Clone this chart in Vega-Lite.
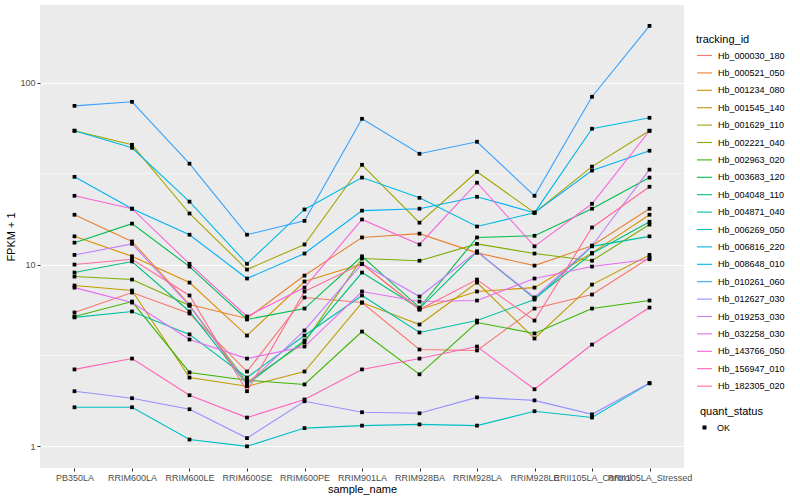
{
"$schema": "https://vega.github.io/schema/vega-lite/v6.json",
"width": 644, "height": 463,
"autosize": "none",
"padding": {"left": 40, "top": 5, "right": 116, "bottom": 32},
"background": "white",
"config": {
  "view": {"fill": "#EBEBEB", "stroke": null},
  "font": "Liberation Sans",
  "axis": {"domain": false, "gridColor": "white", "gridWidth": 1.1, "tickColor": "#333333", "tickSize": 3, "labelColor": "#4D4D4D", "labelFontSize": 9, "labelPadding": 2, "titleFontSize": 11, "titleFontWeight": "normal", "titleColor": "black"},
  "legend": {"titleFontSize": 11, "titleFontWeight": "normal", "titleColor": "black", "labelFontSize": 9, "labelColor": "black", "padding": 0}
},
"datasets": {
  "minor": [{"g": 3.1623}, {"g": 31.623}],
  "expr": [
{"tracking_id":"Hb_000030_180","sample_name":"PB350LA","fpkm":5.45,"quant_status":"OK"},
{"tracking_id":"Hb_000030_180","sample_name":"RRIM600LA","fpkm":7.02,"quant_status":"OK"},
{"tracking_id":"Hb_000030_180","sample_name":"RRIM600LE","fpkm":5.38,"quant_status":"OK"},
{"tracking_id":"Hb_000030_180","sample_name":"RRIM600SE","fpkm":2.58,"quant_status":"OK"},
{"tracking_id":"Hb_000030_180","sample_name":"RRIM600PE","fpkm":6.59,"quant_status":"OK"},
{"tracking_id":"Hb_000030_180","sample_name":"RRIM901LA","fpkm":6.18,"quant_status":"OK"},
{"tracking_id":"Hb_000030_180","sample_name":"RRIM928BA","fpkm":3.41,"quant_status":"OK"},
{"tracking_id":"Hb_000030_180","sample_name":"RRIM928LA","fpkm":3.37,"quant_status":"OK"},
{"tracking_id":"Hb_000030_180","sample_name":"RRIM928LE","fpkm":5.73,"quant_status":"OK"},
{"tracking_id":"Hb_000030_180","sample_name":"RRII105LA_Control","fpkm":6.84,"quant_status":"OK"},
{"tracking_id":"Hb_000030_180","sample_name":"RRII105LA_Stressed","fpkm":10.9,"quant_status":"OK"},
{"tracking_id":"Hb_000521_050","sample_name":"PB350LA","fpkm":18.8,"quant_status":"OK"},
{"tracking_id":"Hb_000521_050","sample_name":"RRIM600LA","fpkm":13.4,"quant_status":"OK"},
{"tracking_id":"Hb_000521_050","sample_name":"RRIM600LE","fpkm":6.03,"quant_status":"OK"},
{"tracking_id":"Hb_000521_050","sample_name":"RRIM600SE","fpkm":5.05,"quant_status":"OK"},
{"tracking_id":"Hb_000521_050","sample_name":"RRIM600PE","fpkm":8.70,"quant_status":"OK"},
{"tracking_id":"Hb_000521_050","sample_name":"RRIM901LA","fpkm":14.1,"quant_status":"OK"},
{"tracking_id":"Hb_000521_050","sample_name":"RRIM928BA","fpkm":14.8,"quant_status":"OK"},
{"tracking_id":"Hb_000521_050","sample_name":"RRIM928LA","fpkm":11.6,"quant_status":"OK"},
{"tracking_id":"Hb_000521_050","sample_name":"RRIM928LE","fpkm":9.87,"quant_status":"OK"},
{"tracking_id":"Hb_000521_050","sample_name":"RRII105LA_Control","fpkm":12.7,"quant_status":"OK"},
{"tracking_id":"Hb_000521_050","sample_name":"RRII105LA_Stressed","fpkm":20.3,"quant_status":"OK"},
{"tracking_id":"Hb_001234_080","sample_name":"PB350LA","fpkm":14.3,"quant_status":"OK"},
{"tracking_id":"Hb_001234_080","sample_name":"RRIM600LA","fpkm":11.1,"quant_status":"OK"},
{"tracking_id":"Hb_001234_080","sample_name":"RRIM600LE","fpkm":7.96,"quant_status":"OK"},
{"tracking_id":"Hb_001234_080","sample_name":"RRIM600SE","fpkm":4.07,"quant_status":"OK"},
{"tracking_id":"Hb_001234_080","sample_name":"RRIM600PE","fpkm":8.07,"quant_status":"OK"},
{"tracking_id":"Hb_001234_080","sample_name":"RRIM901LA","fpkm":10.1,"quant_status":"OK"},
{"tracking_id":"Hb_001234_080","sample_name":"RRIM928BA","fpkm":5.66,"quant_status":"OK"},
{"tracking_id":"Hb_001234_080","sample_name":"RRIM928LA","fpkm":7.11,"quant_status":"OK"},
{"tracking_id":"Hb_001234_080","sample_name":"RRIM928LE","fpkm":7.47,"quant_status":"OK"},
{"tracking_id":"Hb_001234_080","sample_name":"RRII105LA_Control","fpkm":11.6,"quant_status":"OK"},
{"tracking_id":"Hb_001234_080","sample_name":"RRII105LA_Stressed","fpkm":18.8,"quant_status":"OK"},
{"tracking_id":"Hb_001545_140","sample_name":"PB350LA","fpkm":7.67,"quant_status":"OK"},
{"tracking_id":"Hb_001545_140","sample_name":"RRIM600LA","fpkm":7.20,"quant_status":"OK"},
{"tracking_id":"Hb_001545_140","sample_name":"RRIM600LE","fpkm":2.39,"quant_status":"OK"},
{"tracking_id":"Hb_001545_140","sample_name":"RRIM600SE","fpkm":2.14,"quant_status":"OK"},
{"tracking_id":"Hb_001545_140","sample_name":"RRIM600PE","fpkm":2.58,"quant_status":"OK"},
{"tracking_id":"Hb_001545_140","sample_name":"RRIM901LA","fpkm":6.18,"quant_status":"OK"},
{"tracking_id":"Hb_001545_140","sample_name":"RRIM928BA","fpkm":4.68,"quant_status":"OK"},
{"tracking_id":"Hb_001545_140","sample_name":"RRIM928LA","fpkm":7.96,"quant_status":"OK"},
{"tracking_id":"Hb_001545_140","sample_name":"RRIM928LE","fpkm":3.92,"quant_status":"OK"},
{"tracking_id":"Hb_001545_140","sample_name":"RRII105LA_Control","fpkm":7.76,"quant_status":"OK"},
{"tracking_id":"Hb_001545_140","sample_name":"RRII105LA_Stressed","fpkm":11.3,"quant_status":"OK"},
{"tracking_id":"Hb_001629_110","sample_name":"PB350LA","fpkm":54.5,"quant_status":"OK"},
{"tracking_id":"Hb_001629_110","sample_name":"RRIM600LA","fpkm":45.6,"quant_status":"OK"},
{"tracking_id":"Hb_001629_110","sample_name":"RRIM600LE","fpkm":19.1,"quant_status":"OK"},
{"tracking_id":"Hb_001629_110","sample_name":"RRIM600SE","fpkm":9.39,"quant_status":"OK"},
{"tracking_id":"Hb_001629_110","sample_name":"RRIM600PE","fpkm":12.9,"quant_status":"OK"},
{"tracking_id":"Hb_001629_110","sample_name":"RRIM901LA","fpkm":35.4,"quant_status":"OK"},
{"tracking_id":"Hb_001629_110","sample_name":"RRIM928BA","fpkm":17.0,"quant_status":"OK"},
{"tracking_id":"Hb_001629_110","sample_name":"RRIM928LA","fpkm":32.4,"quant_status":"OK"},
{"tracking_id":"Hb_001629_110","sample_name":"RRIM928LE","fpkm":19.3,"quant_status":"OK"},
{"tracking_id":"Hb_001629_110","sample_name":"RRII105LA_Control","fpkm":34.6,"quant_status":"OK"},
{"tracking_id":"Hb_001629_110","sample_name":"RRII105LA_Stressed","fpkm":54.5,"quant_status":"OK"},
{"tracking_id":"Hb_002221_040","sample_name":"PB350LA","fpkm":8.59,"quant_status":"OK"},
{"tracking_id":"Hb_002221_040","sample_name":"RRIM600LA","fpkm":8.27,"quant_status":"OK"},
{"tracking_id":"Hb_002221_040","sample_name":"RRIM600LE","fpkm":5.95,"quant_status":"OK"},
{"tracking_id":"Hb_002221_040","sample_name":"RRIM600SE","fpkm":2.25,"quant_status":"OK"},
{"tracking_id":"Hb_002221_040","sample_name":"RRIM600PE","fpkm":3.73,"quant_status":"OK"},
{"tracking_id":"Hb_002221_040","sample_name":"RRIM901LA","fpkm":10.8,"quant_status":"OK"},
{"tracking_id":"Hb_002221_040","sample_name":"RRIM928BA","fpkm":10.5,"quant_status":"OK"},
{"tracking_id":"Hb_002221_040","sample_name":"RRIM928LA","fpkm":13.0,"quant_status":"OK"},
{"tracking_id":"Hb_002221_040","sample_name":"RRIM928LE","fpkm":11.5,"quant_status":"OK"},
{"tracking_id":"Hb_002221_040","sample_name":"RRII105LA_Control","fpkm":10.5,"quant_status":"OK"},
{"tracking_id":"Hb_002221_040","sample_name":"RRII105LA_Stressed","fpkm":16.6,"quant_status":"OK"},
{"tracking_id":"Hb_002963_020","sample_name":"PB350LA","fpkm":5.18,"quant_status":"OK"},
{"tracking_id":"Hb_002963_020","sample_name":"RRIM600LA","fpkm":6.26,"quant_status":"OK"},
{"tracking_id":"Hb_002963_020","sample_name":"RRIM600LE","fpkm":2.55,"quant_status":"OK"},
{"tracking_id":"Hb_002963_020","sample_name":"RRIM600SE","fpkm":2.31,"quant_status":"OK"},
{"tracking_id":"Hb_002963_020","sample_name":"RRIM600PE","fpkm":2.19,"quant_status":"OK"},
{"tracking_id":"Hb_002963_020","sample_name":"RRIM901LA","fpkm":4.28,"quant_status":"OK"},
{"tracking_id":"Hb_002963_020","sample_name":"RRIM928BA","fpkm":2.49,"quant_status":"OK"},
{"tracking_id":"Hb_002963_020","sample_name":"RRIM928LA","fpkm":4.80,"quant_status":"OK"},
{"tracking_id":"Hb_002963_020","sample_name":"RRIM928LE","fpkm":4.18,"quant_status":"OK"},
{"tracking_id":"Hb_002963_020","sample_name":"RRII105LA_Control","fpkm":5.73,"quant_status":"OK"},
{"tracking_id":"Hb_002963_020","sample_name":"RRII105LA_Stressed","fpkm":6.34,"quant_status":"OK"},
{"tracking_id":"Hb_003683_120","sample_name":"PB350LA","fpkm":13.2,"quant_status":"OK"},
{"tracking_id":"Hb_003683_120","sample_name":"RRIM600LA","fpkm":16.8,"quant_status":"OK"},
{"tracking_id":"Hb_003683_120","sample_name":"RRIM600LE","fpkm":9.75,"quant_status":"OK"},
{"tracking_id":"Hb_003683_120","sample_name":"RRIM600SE","fpkm":4.99,"quant_status":"OK"},
{"tracking_id":"Hb_003683_120","sample_name":"RRIM600PE","fpkm":5.73,"quant_status":"OK"},
{"tracking_id":"Hb_003683_120","sample_name":"RRIM901LA","fpkm":11.1,"quant_status":"OK"},
{"tracking_id":"Hb_003683_120","sample_name":"RRIM928BA","fpkm":5.80,"quant_status":"OK"},
{"tracking_id":"Hb_003683_120","sample_name":"RRIM928LA","fpkm":14.1,"quant_status":"OK"},
{"tracking_id":"Hb_003683_120","sample_name":"RRIM928LE","fpkm":14.4,"quant_status":"OK"},
{"tracking_id":"Hb_003683_120","sample_name":"RRII105LA_Control","fpkm":20.3,"quant_status":"OK"},
{"tracking_id":"Hb_003683_120","sample_name":"RRII105LA_Stressed","fpkm":30.1,"quant_status":"OK"},
{"tracking_id":"Hb_004048_110","sample_name":"PB350LA","fpkm":9.04,"quant_status":"OK"},
{"tracking_id":"Hb_004048_110","sample_name":"RRIM600LA","fpkm":10.4,"quant_status":"OK"},
{"tracking_id":"Hb_004048_110","sample_name":"RRIM600LE","fpkm":5.52,"quant_status":"OK"},
{"tracking_id":"Hb_004048_110","sample_name":"RRIM600SE","fpkm":2.19,"quant_status":"OK"},
{"tracking_id":"Hb_004048_110","sample_name":"RRIM600PE","fpkm":3.82,"quant_status":"OK"},
{"tracking_id":"Hb_004048_110","sample_name":"RRIM901LA","fpkm":9.04,"quant_status":"OK"},
{"tracking_id":"Hb_004048_110","sample_name":"RRIM928BA","fpkm":5.73,"quant_status":"OK"},
{"tracking_id":"Hb_004048_110","sample_name":"RRIM928LA","fpkm":11.8,"quant_status":"OK"},
{"tracking_id":"Hb_004048_110","sample_name":"RRIM928LE","fpkm":6.51,"quant_status":"OK"},
{"tracking_id":"Hb_004048_110","sample_name":"RRII105LA_Control","fpkm":11.5,"quant_status":"OK"},
{"tracking_id":"Hb_004048_110","sample_name":"RRII105LA_Stressed","fpkm":17.2,"quant_status":"OK"},
{"tracking_id":"Hb_004871_040","sample_name":"PB350LA","fpkm":5.12,"quant_status":"OK"},
{"tracking_id":"Hb_004871_040","sample_name":"RRIM600LA","fpkm":5.52,"quant_status":"OK"},
{"tracking_id":"Hb_004871_040","sample_name":"RRIM600LE","fpkm":4.13,"quant_status":"OK"},
{"tracking_id":"Hb_004871_040","sample_name":"RRIM600SE","fpkm":2.39,"quant_status":"OK"},
{"tracking_id":"Hb_004871_040","sample_name":"RRIM600PE","fpkm":4.07,"quant_status":"OK"},
{"tracking_id":"Hb_004871_040","sample_name":"RRIM901LA","fpkm":6.76,"quant_status":"OK"},
{"tracking_id":"Hb_004871_040","sample_name":"RRIM928BA","fpkm":4.23,"quant_status":"OK"},
{"tracking_id":"Hb_004871_040","sample_name":"RRIM928LA","fpkm":4.92,"quant_status":"OK"},
{"tracking_id":"Hb_004871_040","sample_name":"RRIM928LE","fpkm":6.42,"quant_status":"OK"},
{"tracking_id":"Hb_004871_040","sample_name":"RRII105LA_Control","fpkm":12.6,"quant_status":"OK"},
{"tracking_id":"Hb_004871_040","sample_name":"RRII105LA_Stressed","fpkm":14.3,"quant_status":"OK"},
{"tracking_id":"Hb_006269_050","sample_name":"PB350LA","fpkm":1.64,"quant_status":"OK"},
{"tracking_id":"Hb_006269_050","sample_name":"RRIM600LA","fpkm":1.64,"quant_status":"OK"},
{"tracking_id":"Hb_006269_050","sample_name":"RRIM600LE","fpkm":1.09,"quant_status":"OK"},
{"tracking_id":"Hb_006269_050","sample_name":"RRIM600SE","fpkm":1.0,"quant_status":"OK"},
{"tracking_id":"Hb_006269_050","sample_name":"RRIM600PE","fpkm":1.26,"quant_status":"OK"},
{"tracking_id":"Hb_006269_050","sample_name":"RRIM901LA","fpkm":1.30,"quant_status":"OK"},
{"tracking_id":"Hb_006269_050","sample_name":"RRIM928BA","fpkm":1.32,"quant_status":"OK"},
{"tracking_id":"Hb_006269_050","sample_name":"RRIM928LA","fpkm":1.30,"quant_status":"OK"},
{"tracking_id":"Hb_006269_050","sample_name":"RRIM928LE","fpkm":1.56,"quant_status":"OK"},
{"tracking_id":"Hb_006269_050","sample_name":"RRII105LA_Control","fpkm":1.44,"quant_status":"OK"},
{"tracking_id":"Hb_006269_050","sample_name":"RRII105LA_Stressed","fpkm":2.22,"quant_status":"OK"},
{"tracking_id":"Hb_006816_220","sample_name":"PB350LA","fpkm":54.5,"quant_status":"OK"},
{"tracking_id":"Hb_006816_220","sample_name":"RRIM600LA","fpkm":43.9,"quant_status":"OK"},
{"tracking_id":"Hb_006816_220","sample_name":"RRIM600LE","fpkm":22.2,"quant_status":"OK"},
{"tracking_id":"Hb_006816_220","sample_name":"RRIM600SE","fpkm":10.1,"quant_status":"OK"},
{"tracking_id":"Hb_006816_220","sample_name":"RRIM600PE","fpkm":20.1,"quant_status":"OK"},
{"tracking_id":"Hb_006816_220","sample_name":"RRIM901LA","fpkm":30.1,"quant_status":"OK"},
{"tracking_id":"Hb_006816_220","sample_name":"RRIM928BA","fpkm":23.3,"quant_status":"OK"},
{"tracking_id":"Hb_006816_220","sample_name":"RRIM928LA","fpkm":16.2,"quant_status":"OK"},
{"tracking_id":"Hb_006816_220","sample_name":"RRIM928LE","fpkm":19.3,"quant_status":"OK"},
{"tracking_id":"Hb_006816_220","sample_name":"RRII105LA_Control","fpkm":55.9,"quant_status":"OK"},
{"tracking_id":"Hb_006816_220","sample_name":"RRII105LA_Stressed","fpkm":64.2,"quant_status":"OK"},
{"tracking_id":"Hb_008648_010","sample_name":"PB350LA","fpkm":30.4,"quant_status":"OK"},
{"tracking_id":"Hb_008648_010","sample_name":"RRIM600LA","fpkm":20.3,"quant_status":"OK"},
{"tracking_id":"Hb_008648_010","sample_name":"RRIM600LE","fpkm":14.6,"quant_status":"OK"},
{"tracking_id":"Hb_008648_010","sample_name":"RRIM600SE","fpkm":8.38,"quant_status":"OK"},
{"tracking_id":"Hb_008648_010","sample_name":"RRIM600PE","fpkm":11.5,"quant_status":"OK"},
{"tracking_id":"Hb_008648_010","sample_name":"RRIM901LA","fpkm":19.8,"quant_status":"OK"},
{"tracking_id":"Hb_008648_010","sample_name":"RRIM928BA","fpkm":20.3,"quant_status":"OK"},
{"tracking_id":"Hb_008648_010","sample_name":"RRIM928LA","fpkm":23.6,"quant_status":"OK"},
{"tracking_id":"Hb_008648_010","sample_name":"RRIM928LE","fpkm":19.3,"quant_status":"OK"},
{"tracking_id":"Hb_008648_010","sample_name":"RRII105LA_Control","fpkm":32.9,"quant_status":"OK"},
{"tracking_id":"Hb_008648_010","sample_name":"RRII105LA_Stressed","fpkm":42.3,"quant_status":"OK"},
{"tracking_id":"Hb_010261_060","sample_name":"PB350LA","fpkm":74.7,"quant_status":"OK"},
{"tracking_id":"Hb_010261_060","sample_name":"RRIM600LA","fpkm":78.6,"quant_status":"OK"},
{"tracking_id":"Hb_010261_060","sample_name":"RRIM600LE","fpkm":35.9,"quant_status":"OK"},
{"tracking_id":"Hb_010261_060","sample_name":"RRIM600SE","fpkm":14.6,"quant_status":"OK"},
{"tracking_id":"Hb_010261_060","sample_name":"RRIM600PE","fpkm":17.4,"quant_status":"OK"},
{"tracking_id":"Hb_010261_060","sample_name":"RRIM901LA","fpkm":63.4,"quant_status":"OK"},
{"tracking_id":"Hb_010261_060","sample_name":"RRIM928BA","fpkm":40.7,"quant_status":"OK"},
{"tracking_id":"Hb_010261_060","sample_name":"RRIM928LA","fpkm":47.4,"quant_status":"OK"},
{"tracking_id":"Hb_010261_060","sample_name":"RRIM928LE","fpkm":23.9,"quant_status":"OK"},
{"tracking_id":"Hb_010261_060","sample_name":"RRII105LA_Control","fpkm":83.8,"quant_status":"OK"},
{"tracking_id":"Hb_010261_060","sample_name":"RRII105LA_Stressed","fpkm":205.7,"quant_status":"OK"},
{"tracking_id":"Hb_012627_030","sample_name":"PB350LA","fpkm":2.01,"quant_status":"OK"},
{"tracking_id":"Hb_012627_030","sample_name":"RRIM600LA","fpkm":1.84,"quant_status":"OK"},
{"tracking_id":"Hb_012627_030","sample_name":"RRIM600LE","fpkm":1.60,"quant_status":"OK"},
{"tracking_id":"Hb_012627_030","sample_name":"RRIM600SE","fpkm":1.11,"quant_status":"OK"},
{"tracking_id":"Hb_012627_030","sample_name":"RRIM600PE","fpkm":1.77,"quant_status":"OK"},
{"tracking_id":"Hb_012627_030","sample_name":"RRIM901LA","fpkm":1.54,"quant_status":"OK"},
{"tracking_id":"Hb_012627_030","sample_name":"RRIM928BA","fpkm":1.52,"quant_status":"OK"},
{"tracking_id":"Hb_012627_030","sample_name":"RRIM928LA","fpkm":1.86,"quant_status":"OK"},
{"tracking_id":"Hb_012627_030","sample_name":"RRIM928LE","fpkm":1.79,"quant_status":"OK"},
{"tracking_id":"Hb_012627_030","sample_name":"RRII105LA_Control","fpkm":1.50,"quant_status":"OK"},
{"tracking_id":"Hb_012627_030","sample_name":"RRII105LA_Stressed","fpkm":2.23,"quant_status":"OK"},
{"tracking_id":"Hb_019253_030","sample_name":"PB350LA","fpkm":11.3,"quant_status":"OK"},
{"tracking_id":"Hb_019253_030","sample_name":"RRIM600LA","fpkm":13.0,"quant_status":"OK"},
{"tracking_id":"Hb_019253_030","sample_name":"RRIM600LE","fpkm":5.95,"quant_status":"OK"},
{"tracking_id":"Hb_019253_030","sample_name":"RRIM600SE","fpkm":2.19,"quant_status":"OK"},
{"tracking_id":"Hb_019253_030","sample_name":"RRIM600PE","fpkm":4.34,"quant_status":"OK"},
{"tracking_id":"Hb_019253_030","sample_name":"RRIM901LA","fpkm":10.1,"quant_status":"OK"},
{"tracking_id":"Hb_019253_030","sample_name":"RRIM928BA","fpkm":6.67,"quant_status":"OK"},
{"tracking_id":"Hb_019253_030","sample_name":"RRIM928LA","fpkm":11.8,"quant_status":"OK"},
{"tracking_id":"Hb_019253_030","sample_name":"RRIM928LE","fpkm":6.59,"quant_status":"OK"},
{"tracking_id":"Hb_019253_030","sample_name":"RRII105LA_Control","fpkm":12.7,"quant_status":"OK"},
{"tracking_id":"Hb_019253_030","sample_name":"RRII105LA_Stressed","fpkm":33.3,"quant_status":"OK"},
{"tracking_id":"Hb_032258_030","sample_name":"PB350LA","fpkm":7.47,"quant_status":"OK"},
{"tracking_id":"Hb_032258_030","sample_name":"RRIM600LA","fpkm":6.18,"quant_status":"OK"},
{"tracking_id":"Hb_032258_030","sample_name":"RRIM600LE","fpkm":3.87,"quant_status":"OK"},
{"tracking_id":"Hb_032258_030","sample_name":"RRIM600SE","fpkm":3.04,"quant_status":"OK"},
{"tracking_id":"Hb_032258_030","sample_name":"RRIM600PE","fpkm":3.54,"quant_status":"OK"},
{"tracking_id":"Hb_032258_030","sample_name":"RRIM901LA","fpkm":7.11,"quant_status":"OK"},
{"tracking_id":"Hb_032258_030","sample_name":"RRIM928BA","fpkm":6.26,"quant_status":"OK"},
{"tracking_id":"Hb_032258_030","sample_name":"RRIM928LA","fpkm":6.34,"quant_status":"OK"},
{"tracking_id":"Hb_032258_030","sample_name":"RRIM928LE","fpkm":8.38,"quant_status":"OK"},
{"tracking_id":"Hb_032258_030","sample_name":"RRII105LA_Control","fpkm":9.75,"quant_status":"OK"},
{"tracking_id":"Hb_032258_030","sample_name":"RRII105LA_Stressed","fpkm":10.7,"quant_status":"OK"},
{"tracking_id":"Hb_143766_050","sample_name":"PB350LA","fpkm":23.9,"quant_status":"OK"},
{"tracking_id":"Hb_143766_050","sample_name":"RRIM600LA","fpkm":20.3,"quant_status":"OK"},
{"tracking_id":"Hb_143766_050","sample_name":"RRIM600LE","fpkm":10.1,"quant_status":"OK"},
{"tracking_id":"Hb_143766_050","sample_name":"RRIM600SE","fpkm":5.18,"quant_status":"OK"},
{"tracking_id":"Hb_143766_050","sample_name":"RRIM600PE","fpkm":7.47,"quant_status":"OK"},
{"tracking_id":"Hb_143766_050","sample_name":"RRIM901LA","fpkm":17.7,"quant_status":"OK"},
{"tracking_id":"Hb_143766_050","sample_name":"RRIM928BA","fpkm":12.9,"quant_status":"OK"},
{"tracking_id":"Hb_143766_050","sample_name":"RRIM928LA","fpkm":28.2,"quant_status":"OK"},
{"tracking_id":"Hb_143766_050","sample_name":"RRIM928LE","fpkm":12.6,"quant_status":"OK"},
{"tracking_id":"Hb_143766_050","sample_name":"RRII105LA_Control","fpkm":21.6,"quant_status":"OK"},
{"tracking_id":"Hb_143766_050","sample_name":"RRII105LA_Stressed","fpkm":54.5,"quant_status":"OK"},
{"tracking_id":"Hb_156947_010","sample_name":"PB350LA","fpkm":2.65,"quant_status":"OK"},
{"tracking_id":"Hb_156947_010","sample_name":"RRIM600LA","fpkm":3.04,"quant_status":"OK"},
{"tracking_id":"Hb_156947_010","sample_name":"RRIM600LE","fpkm":1.91,"quant_status":"OK"},
{"tracking_id":"Hb_156947_010","sample_name":"RRIM600SE","fpkm":1.44,"quant_status":"OK"},
{"tracking_id":"Hb_156947_010","sample_name":"RRIM600PE","fpkm":1.81,"quant_status":"OK"},
{"tracking_id":"Hb_156947_010","sample_name":"RRIM901LA","fpkm":2.65,"quant_status":"OK"},
{"tracking_id":"Hb_156947_010","sample_name":"RRIM928BA","fpkm":3.04,"quant_status":"OK"},
{"tracking_id":"Hb_156947_010","sample_name":"RRIM928LA","fpkm":3.54,"quant_status":"OK"},
{"tracking_id":"Hb_156947_010","sample_name":"RRIM928LE","fpkm":2.06,"quant_status":"OK"},
{"tracking_id":"Hb_156947_010","sample_name":"RRII105LA_Control","fpkm":3.63,"quant_status":"OK"},
{"tracking_id":"Hb_156947_010","sample_name":"RRII105LA_Stressed","fpkm":5.80,"quant_status":"OK"},
{"tracking_id":"Hb_182305_020","sample_name":"PB350LA","fpkm":10.0,"quant_status":"OK"},
{"tracking_id":"Hb_182305_020","sample_name":"RRIM600LA","fpkm":10.7,"quant_status":"OK"},
{"tracking_id":"Hb_182305_020","sample_name":"RRIM600LE","fpkm":6.76,"quant_status":"OK"},
{"tracking_id":"Hb_182305_020","sample_name":"RRIM600SE","fpkm":2.01,"quant_status":"OK"},
{"tracking_id":"Hb_182305_020","sample_name":"RRIM600PE","fpkm":7.11,"quant_status":"OK"},
{"tracking_id":"Hb_182305_020","sample_name":"RRIM901LA","fpkm":10.1,"quant_status":"OK"},
{"tracking_id":"Hb_182305_020","sample_name":"RRIM928BA","fpkm":5.66,"quant_status":"OK"},
{"tracking_id":"Hb_182305_020","sample_name":"RRIM928LA","fpkm":8.27,"quant_status":"OK"},
{"tracking_id":"Hb_182305_020","sample_name":"RRIM928LE","fpkm":4.92,"quant_status":"OK"},
{"tracking_id":"Hb_182305_020","sample_name":"RRII105LA_Control","fpkm":16.0,"quant_status":"OK"},
{"tracking_id":"Hb_182305_020","sample_name":"RRII105LA_Stressed","fpkm":26.8,"quant_status":"OK"}
  ]
},
"layer": [
  {
    "data": {"name": "minor"},
    "mark": {"type": "rule", "color": "white", "strokeWidth": 0.55},
    "encoding": {
      "y": {"field": "g", "type": "quantitative", "title": "FPKM + 1",
            "scale": {"type": "log", "domain": [0.76, 268], "nice": false},
            "axis": {"values": [1, 10, 100], "format": "d", "titlePadding": 3}}
    }
  },
  {
    "data": {"name": "expr"},
    "mark": {"type": "line", "strokeWidth": 1.1},
    "encoding": {
      "x": {"field": "sample_name", "type": "nominal", "title": "sample_name",
            "sort": ["PB350LA","RRIM600LA","RRIM600LE","RRIM600SE","RRIM600PE","RRIM901LA","RRIM928BA","RRIM928LA","RRIM928LE","RRII105LA_Control","RRII105LA_Stressed"],
            "scale": {"type": "point", "padding": 0.6},
            "axis": {"labelAngle": 0, "labelOverlap": false, "labelBound": false, "titlePadding": 1}},
      "y": {"field": "fpkm", "type": "quantitative", "title": "FPKM + 1",
            "scale": {"type": "log", "domain": [0.76, 268], "nice": false},
            "axis": {"values": [1, 10, 100], "format": "d", "titlePadding": 3}},
      "color": {"field": "tracking_id", "type": "nominal", "title": "tracking_id",
            "scale": {"domain": ["Hb_000030_180","Hb_000521_050","Hb_001234_080","Hb_001545_140","Hb_001629_110","Hb_002221_040","Hb_002963_020","Hb_003683_120","Hb_004048_110","Hb_004871_040","Hb_006269_050","Hb_006816_220","Hb_008648_010","Hb_010261_060","Hb_012627_030","Hb_019253_030","Hb_032258_030","Hb_143766_050","Hb_156947_010","Hb_182305_020"],
                      "range": ["#F8766D","#EA8331","#D89000","#C09B00","#A3A500","#7CAE00","#39B600","#00BB4E","#00BF7D","#00C1A3","#00BFC4","#00BAE0","#00B0F6","#35A2FF","#9590FF","#C77CFF","#E76BF3","#FA62DB","#FF62BC","#FF6C91"]},
            "legend": {"orient": "none", "legendX": 656, "legendY": 29, "symbolType": "stroke", "symbolSize": 225, "symbolStrokeWidth": 1.1, "rowPadding": 3.4, "titlePadding": 2, "labelOffset": 5}}
    }
  },
  {
    "data": {"name": "expr"},
    "mark": {"type": "point", "filled": true, "size": 14, "color": "black", "opacity": 1},
    "encoding": {
      "x": {"field": "sample_name", "type": "nominal",
            "sort": ["PB350LA","RRIM600LA","RRIM600LE","RRIM600SE","RRIM600PE","RRIM901LA","RRIM928BA","RRIM928LA","RRIM928LE","RRII105LA_Control","RRII105LA_Stressed"]},
      "y": {"field": "fpkm", "type": "quantitative"},
      "shape": {"field": "quant_status", "type": "nominal", "title": "quant_status",
            "scale": {"range": ["square"]},
            "legend": {"orient": "none", "legendX": 660, "legendY": 401, "symbolSize": 16, "titlePadding": 6, "labelOffset": 8}}
    }
  }
]
}
